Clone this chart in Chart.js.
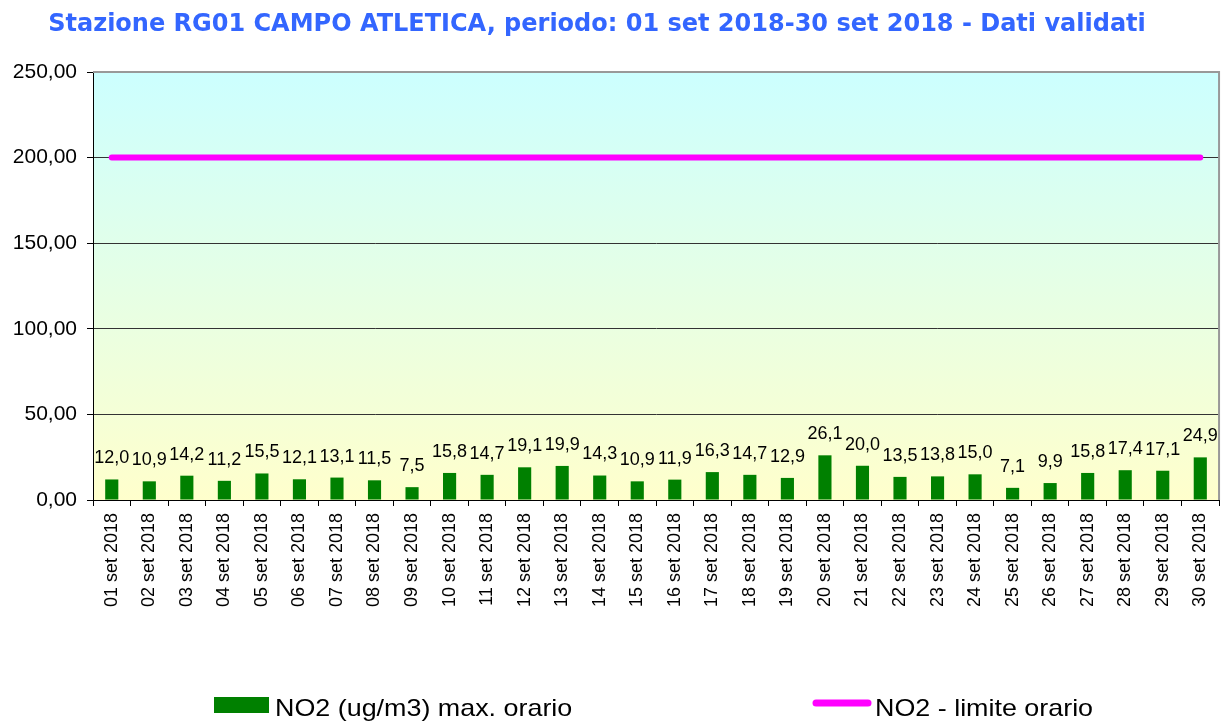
<!DOCTYPE html>
<html>
<head>
<meta charset="utf-8">
<script src="https://cdn.jsdelivr.net/npm/chart.js@4"></script>
<style>
  body { margin: 0; background: #fff; }
</style>
</head>
<body>
<canvas id="mycanvas" width="1229" height="722"></canvas>
<script>
var titolo = "Stazione RG01 CAMPO ATLETICA, periodo: 01 set 2018-30 set 2018 - Dati validati";

var giorni = ["01 set 2018", "02 set 2018", "03 set 2018", "04 set 2018", "05 set 2018",
  "06 set 2018", "07 set 2018", "08 set 2018", "09 set 2018", "10 set 2018",
  "11 set 2018", "12 set 2018", "13 set 2018", "14 set 2018", "15 set 2018",
  "16 set 2018", "17 set 2018", "18 set 2018", "19 set 2018", "20 set 2018",
  "21 set 2018", "22 set 2018", "23 set 2018", "24 set 2018", "25 set 2018",
  "26 set 2018", "27 set 2018", "28 set 2018", "29 set 2018", "30 set 2018"];

var no2Max = [12.0, 10.9, 14.2, 11.2, 15.5, 12.1, 13.1, 11.5, 7.5, 15.8,
  14.7, 19.1, 19.9, 14.3, 10.9, 11.9, 16.3, 14.7, 12.9, 26.1,
  20.0, 13.5, 13.8, 15.0, 7.1, 9.9, 15.8, 17.4, 17.1, 24.9];

var no2Limite = [200, 200, 200, 200, 200, 200, 200, 200, 200, 200,
  200, 200, 200, 200, 200, 200, 200, 200, 200, 200,
  200, 200, 200, 200, 200, 200, 200, 200, 200, 200];

var yTicks = [0, 50, 100, 150, 200, 250];

var FONT = '"Liberation Sans", Arial, sans-serif';

function virgola(v, dec) {
  return v.toFixed(dec).replace('.', ',');
}

// background gradient, frame, title and legend
var decorazioni = {
  id: 'decorazioni',
  beforeDraw: function(chart) {
    var ctx = chart.ctx;
    var a = chart.chartArea;
    ctx.save();
    ctx.fillStyle = '#ffffff';
    ctx.fillRect(0, 0, chart.width, chart.height);
    var g = ctx.createLinearGradient(0, a.top, 0, a.bottom);
    g.addColorStop(0, '#CCFFFF');
    g.addColorStop(1, '#FFFFCC');
    ctx.fillStyle = g;
    ctx.fillRect(a.left, a.top, a.right - a.left, a.bottom - a.top);
    ctx.restore();
  },
  afterDraw: function(chart) {
    var ctx = chart.ctx;
    var a = chart.chartArea;
    ctx.save();

    // grey frame top / right
    ctx.strokeStyle = '#999999';
    ctx.lineWidth = 2;
    ctx.beginPath();
    ctx.moveTo(a.left, a.top);
    ctx.lineTo(a.right, a.top);
    ctx.lineTo(a.right, a.bottom);
    ctx.stroke();

    // title
    ctx.fillStyle = '#3366FF';
    ctx.font = 'bold 24px "DejaVu Sans", Verdana, sans-serif';
    ctx.textAlign = 'center';
    ctx.textBaseline = 'alphabetic';
    ctx.fillText(titolo, 597, 31);

    // legend
    var ds = chart.data.datasets;
    ctx.fillStyle = '#008000';
    ctx.fillRect(214, 697, 55, 16);
    ctx.strokeStyle = '#FF00FF';
    ctx.lineWidth = 7;
    ctx.lineCap = 'round';
    ctx.beginPath();
    ctx.moveTo(816, 703);
    ctx.lineTo(868, 703);
    ctx.stroke();

    ctx.fillStyle = '#000000';
    ctx.font = '24px ' + FONT;
    ctx.textAlign = 'left';
    [[ds[0].label, 275], [ds[1].label, 875]].forEach(function(it) {
      ctx.save();
      ctx.translate(it[1], 716);
      ctx.scale(1.12, 1);
      ctx.fillText(it[0], 0, 0);
      ctx.restore();
    });
    ctx.restore();
  }
};

// value labels above the bars
var etichette = {
  id: 'etichette',
  afterDatasetsDraw: function(chart) {
    var ctx = chart.ctx;
    var meta = chart.getDatasetMeta(0);
    ctx.save();
    ctx.font = '18px ' + FONT;
    ctx.fillStyle = '#000000';
    ctx.textAlign = 'center';
    ctx.textBaseline = 'middle';
    meta.data.forEach(function(bar, i) {
      ctx.fillText(virgola(no2Max[i], 1), bar.x, bar.y - 21);
    });
    ctx.restore();
  }
};

var chartdata = {
  labels: giorni,
  datasets: [
    {
      type: 'bar',
      label: "NO2 (ug/m3) max. orario",
      data: no2Max,
      backgroundColor: '#008000',
      borderWidth: 0,
      barPercentage: 0.35,
      categoryPercentage: 1.0,
      order: 2
    },
    {
      type: 'line',
      label: "NO2 - limite orario",
      data: no2Limite,
      borderColor: '#FF00FF',
      backgroundColor: '#FF00FF',
      borderWidth: 6,
      borderCapStyle: 'round',
      pointRadius: 0,
      fill: false,
      tension: 0,
      order: 1
    }
  ]
};

var ctx = document.getElementById('mycanvas');

var grafico = new Chart(ctx, {
  data: chartdata,
  plugins: [decorazioni, etichette],
  options: {
    responsive: false,
    animation: false,
    layout: { padding: { top: 72, right: 7, bottom: 0, left: 0 } },
    plugins: {
      legend: { display: false },
      title: { display: false },
      tooltip: { enabled: false }
    },
    scales: {
      x: {
        offset: true,
        grid: {
          offset: true,
          drawOnChartArea: false,
          drawTicks: true,
          tickLength: 6,
          tickColor: '#000000',
          color: '#000000'
        },
        border: { color: '#000000', width: 1 },
        ticks: {
          autoSkip: false,
          minRotation: 90,
          maxRotation: 90,
          padding: 7,
          color: '#000000',
          font: { family: FONT, size: 18 }
        },
        afterFit: function(s) { s.height = 222; }
      },
      y: {
        min: 0,
        max: 250,
        afterBuildTicks: function(s) {
          s.ticks = yTicks.map(function(v) { return { value: v }; });
        },
        grid: {
          color: function(c) {
            if (c.tick.value === 0) return '#000000';
            if (c.tick.value === 250) return '#999999';
            return '#333333';
          },
          lineWidth: 1,
          tickLength: 6,
          tickColor: '#000000'
        },
        border: { color: '#000000', width: 1 },
        ticks: {
          padding: 10,
          color: '#000000',
          font: { family: FONT, size: 21 },
          callback: function(v) { return virgola(v, 2); }
        },
        afterFit: function(s) { s.width = 93; }
      }
    }
  }
});
</script>
</body>
</html>
